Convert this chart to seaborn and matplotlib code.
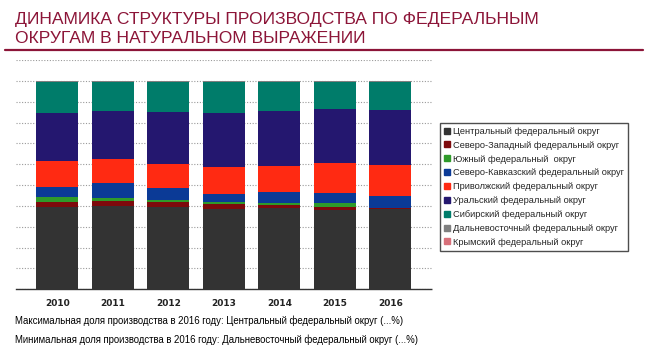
import matplotlib
matplotlib.use("Agg")
import matplotlib.pyplot as plt
from matplotlib.lines import Line2D
import seaborn as sns
import pandas as pd
import numpy as np

years = ["2010", "2011", "2012", "2013", "2014", "2015", "2016"]
regions = [
    "Центральный федеральный округ",
    "Северо-Западный федеральный округ",
    "Южный федеральный  округ",
    "Северо-Кавказский федеральный округ",
    "Приволжский федеральный округ",
    "Уральский федеральный округ",
    "Сибирский федеральный округ",
    "Дальневосточный федеральный округ",
    "Крымский федеральный округ",
]
central = [39.6, 40.1, 39.6, 38.4, 38.8, 38.0, 38.4]
north_west = [2.4, 2.4, 2.3, 2.3, 1.6, 1.6, 0.5]
south = [2.1, 1.1, 0.9, 1.0, 1.1, 1.6, 0.2]
north_caucasus = [5.1, 7.2, 5.6, 3.8, 5.0, 4.8, 5.8]
volga = [12.4, 11.7, 11.7, 13.3, 12.6, 14.4, 14.7]
ural = [22.8, 23.0, 24.8, 25.9, 26.4, 25.9, 26.2]
siberia = [15.1, 14.0, 14.6, 14.8, 14.0, 13.2, 13.7]
far_east = [0.5, 0.5, 0.5, 0.5, 0.5, 0.5, 0.5]
crimea = [0.0, 0.0, 0.0, 0.0, 0.0, 0.0, 0.0]

colors = ["#333333", "#7d0a0c", "#2f9a2a", "#0b3a96", "#ff2a12",
          "#24176f", "#007c6a", "#7f7f7f", "#d8707a"]

df = pd.DataFrame({"year": years})
series = [central, north_west, south, north_caucasus, volga, ural,
          siberia, far_east, crimea]
for name, vals in zip(regions, series):
    df[name] = vals
cum = df[regions].cumsum(axis=1)
cum["year"] = years

sns.set_style("white")
plt.rcParams["font.family"] = ["Liberation Sans", "DejaVu Sans"]

fig = plt.figure(figsize=(6.46, 3.55), dpi=100)
ax = fig.add_axes([15.7 / 646, 1 - 289.3 / 355, (432 - 15.7) / 646, (289.3 - 60) / 355])

# stacked bars: draw cumulative totals from the top layer down
for name, col in reversed(list(zip(regions, colors))):
    sns.barplot(data=cum, x="year", y=name, order=years, color=col,
                width=0.76, saturation=1, linewidth=0, ax=ax, zorder=3)

ax.set_xlim(-0.75, 6.75)
ax.set_ylim(0, 110)
ax.set_yticks(np.arange(0, 111, 10))
ax.set_yticklabels([])
ax.tick_params(axis="y", length=0)
ax.tick_params(axis="x", length=3, width=0.8, color="#333333", pad=4,
               labelsize=6.5)
for lbl in ax.get_xticklabels():
    lbl.set_fontfamily("DejaVu Sans")
    lbl.set_fontweight("bold")
    lbl.set_color("#222222")
ax.set_xlabel("")
ax.set_ylabel("")
ax.yaxis.grid(True, linestyle=(0, (1, 1.5)), color="#9a9a9a", linewidth=0.8, zorder=0)
for s in ["top", "right", "left"]:
    ax.spines[s].set_visible(False)
ax.spines["bottom"].set_linestyle((0, (1, 1)))
ax.spines["bottom"].set_color("#333333")
ax.spines["bottom"].set_linewidth(1.0)

handles = [Line2D([0], [0], marker="s", linestyle="none", markersize=4.5,
                  markerfacecolor=c, markeredgecolor=c) for c in colors]
leg = fig.legend(handles, regions, loc="upper left",
                 bbox_to_anchor=(440 / 646, 1 - 122.7 / 355),
                 fontsize=6.7, frameon=True, fancybox=False,
                 handlelength=0.6, handletextpad=0.35, labelspacing=0.52,
                 borderpad=0.45, borderaxespad=0)
leg.get_frame().set_edgecolor("#222222")
leg.get_frame().set_linewidth(1.0)

title_color = "#8c1538"
fig.text(15 / 646, 1 - 12 / 355,
         "ДИНАМИКА СТРУКТУРЫ ПРОИЗВОДСТВА ПО ФЕДЕРАЛЬНЫМ\nОКРУГАМ В НАТУРАЛЬНОМ ВЫРАЖЕНИИ",
         ha="left", va="top", fontsize=12.6, color=title_color, linespacing=1.3)
fig.add_artist(Line2D([5 / 646, 643 / 646], [1 - 50 / 355, 1 - 50 / 355],
                      color=title_color, linewidth=1.6))

fig.text(15 / 646, 1 - 321 / 355,
         "Максимальная доля производства в 2016 году: Центральный федеральный округ (...%)",
         ha="left", va="center", fontsize=6.9, color="#000000")
fig.text(15 / 646, 1 - 340 / 355,
         "Минимальная доля производства в 2016 году: Дальневосточный федеральный округ (...%)",
         ha="left", va="center", fontsize=6.9, color="#000000")

fig.savefig("out.png", dpi=100)
